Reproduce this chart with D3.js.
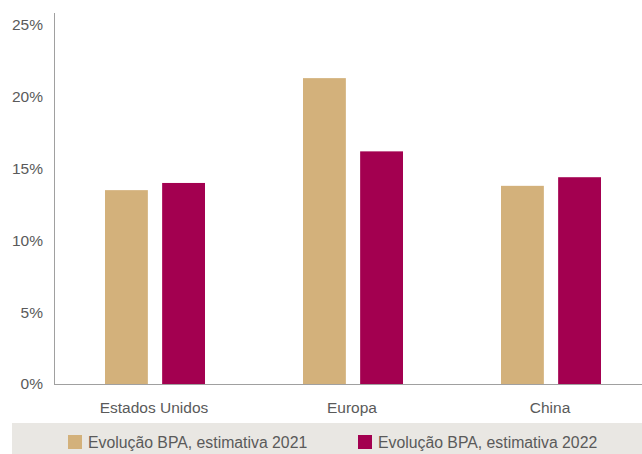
<!DOCTYPE html>
<html>
<head>
<meta charset="utf-8">
<script src="https://cdn.jsdelivr.net/npm/d3@7"></script>
<style>
  body { margin: 0; background: #fff; }
  text { font-family: "Liberation Sans", Arial, sans-serif; }
</style>
</head>
<body>
<div class="plot"></div>
<script>
var categories = ["Estados Unidos", "Europa", "China"];
var seriesNames = ["Evolução BPA, estimativa 2021", "Evolução BPA, estimativa 2022"];
var values2021 = [13.5, 21.3, 13.8];
var values2022 = [14.0, 16.2, 14.4];
var yTicks = [0, 5, 10, 15, 20, 25];
var colors = ["#d3b17b", "#a30050"];

var width = 642, height = 454;
var svg = d3.select(".plot").append("svg")
  .attr("width", width)
  .attr("height", height);

var y = d3.scaleLinear().domain([0, 25]).range([384, 25]);
var x0 = d3.scaleBand().domain(categories).range([55, 649]);
var x1 = d3.scaleBand().domain(seriesNames).range([-49, 51]).paddingInner(0.25);

// y axis labels
svg.selectAll(".ylab")
  .data(yTicks)
  .enter()
  .append("text")
  .attr("x", 43)
  .attr("y", function(d) { return y(d); })
  .attr("dy", "0.35em")
  .style("text-anchor", "end")
  .style("font-size", "15.5px")
  .style("fill", "#5a5a5a")
  .text(function(d) { return d + "%"; });

// bars
var rows = categories.map(function(c, i) {
  return { cat: c, vals: [values2021[i], values2022[i]] };
});

var groups = svg.selectAll(".grp")
  .data(rows)
  .enter()
  .append("g")
  .attr("transform", function(d) {
    return "translate(" + (x0(d.cat) + x0.bandwidth() / 2) + ",0)";
  });

groups.selectAll("rect")
  .data(function(d) { return d.vals; })
  .enter()
  .append("rect")
  .attr("x", function(d, i) { return x1(seriesNames[i]); })
  .attr("width", x1.bandwidth())
  .attr("y", function(d) { return y(d); })
  .attr("height", function(d) { return y(0) - y(d); })
  .style("fill", function(d, i) { return colors[i]; });

// axis lines
svg.append("line")
  .attr("x1", 54.5).attr("x2", 54.5)
  .attr("y1", 13).attr("y2", 384)
  .style("stroke", "#a0a0a0").style("stroke-width", 1);
svg.append("line")
  .attr("x1", 54).attr("x2", 642)
  .attr("y1", 384.5).attr("y2", 384.5)
  .style("stroke", "#a0a0a0").style("stroke-width", 1);

// category labels
svg.selectAll(".xlab")
  .data(categories)
  .enter()
  .append("text")
  .attr("x", function(d) { return x0(d) + x0.bandwidth() / 2; })
  .attr("y", 413)
  .style("text-anchor", "middle")
  .style("font-size", "15.5px")
  .style("fill", "#5a5a5a")
  .text(function(d) { return d; });

// legend band
svg.append("rect")
  .attr("x", 12).attr("y", 423)
  .attr("width", 630).attr("height", 31)
  .style("fill", "#e9e7e3");

var legendX = [68, 358];
var legend = svg.selectAll(".leg")
  .data(seriesNames)
  .enter()
  .append("g")
  .attr("transform", function(d, i) { return "translate(" + legendX[i] + ",435)"; });

legend.append("rect")
  .attr("width", 14).attr("height", 14)
  .style("fill", function(d, i) { return colors[i]; });

legend.append("text")
  .attr("x", 20)
  .attr("y", 12.5)
  .style("font-size", "15.8px")
  .style("fill", "#5a5a5a")
  .text(function(d) { return d; });
</script>
</body>
</html>
